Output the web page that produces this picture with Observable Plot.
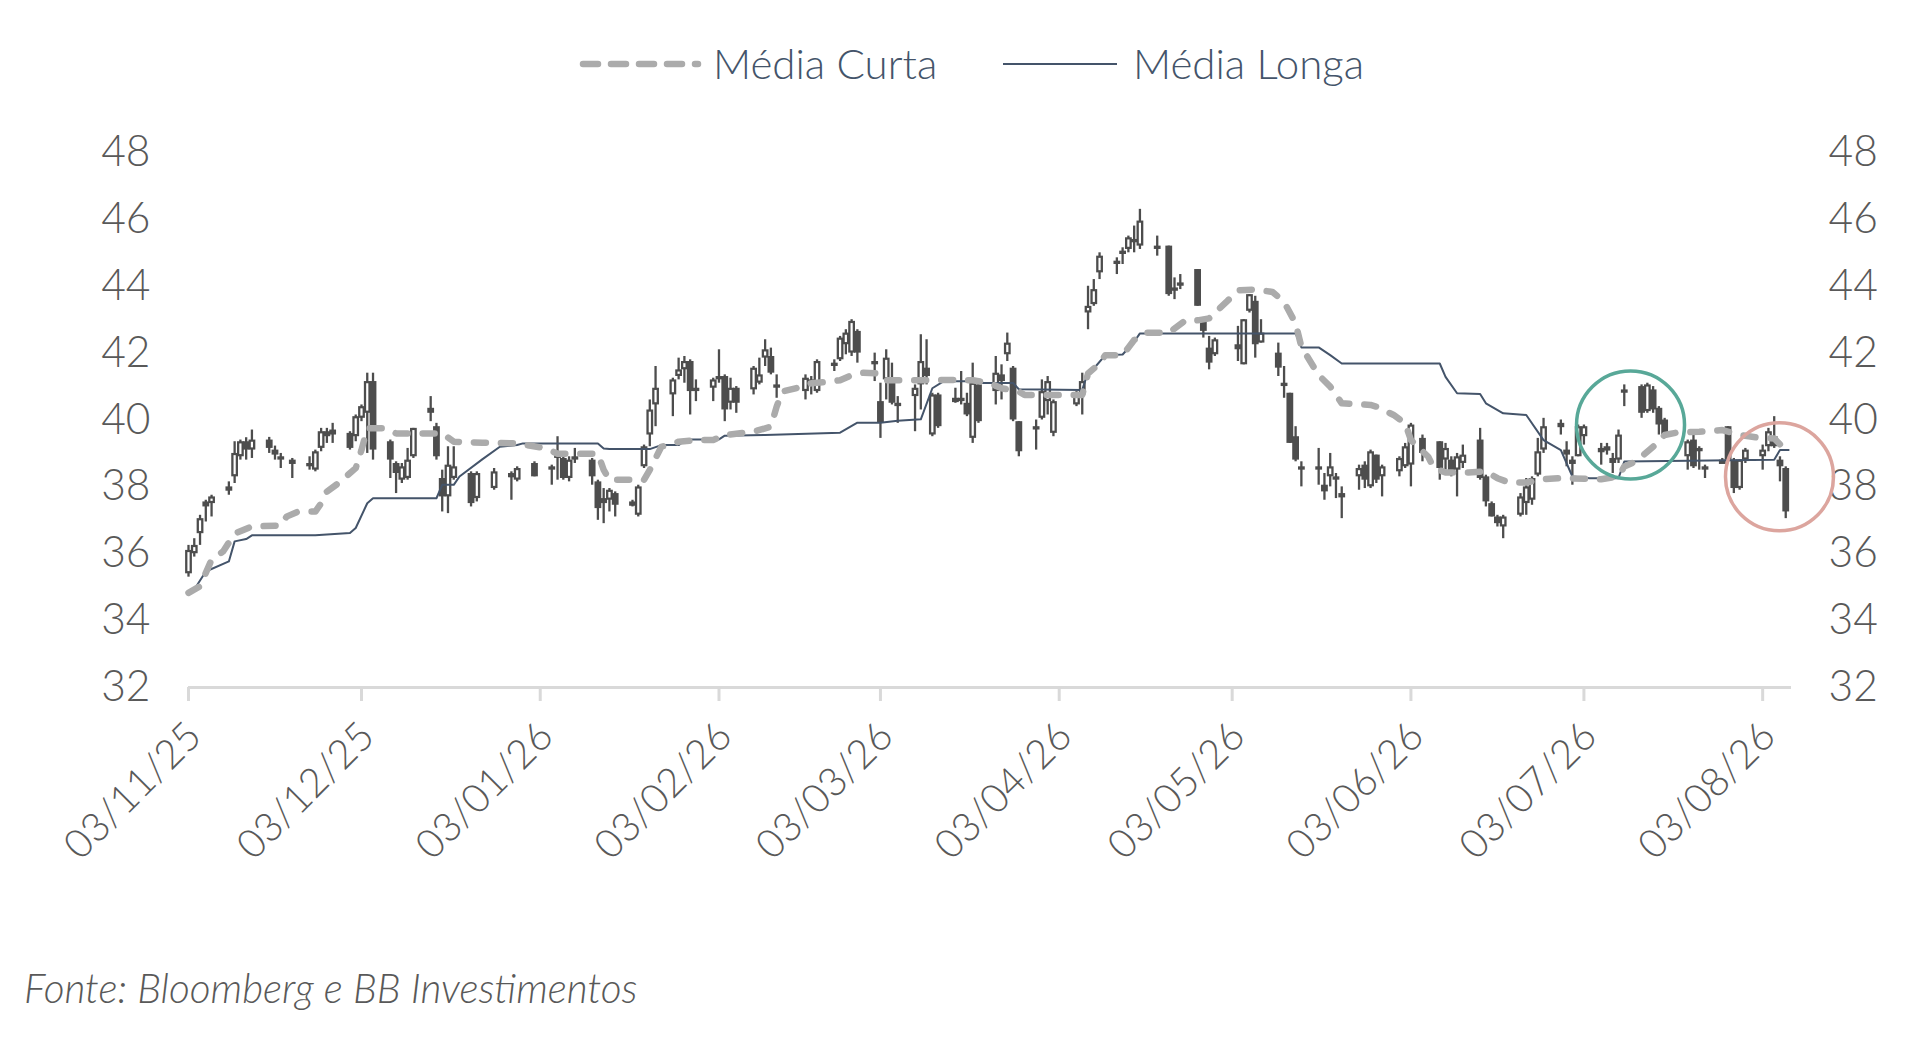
<!DOCTYPE html>
<html>
<head>
<meta charset="utf-8">
<script src="https://cdn.jsdelivr.net/npm/d3@7"></script>
<script src="https://cdn.jsdelivr.net/npm/@observablehq/plot@0.6"></script>
<style>
  html, body { margin: 0; padding: 0; background: #ffffff; }
  #wrap { position: relative; width: 1908px; height: 1055px; overflow: hidden; font-family: Lato, "Noto Sans", sans-serif; }
  #chart { position: absolute; left: 0; top: 0; }
  #legend { position: absolute; left: 0; top: 0; }
  #caption { position: absolute; left: 24px; top: 968px; font-style: italic; font-weight: 300; font-size: 40.5px; line-height: 1; color: #595959; }
</style>
</head>
<body>
<div id="wrap">
  <div id="chart"></div>
  <svg id="legend" width="1908" height="130"></svg>
  <div id="caption"></div>
</div>
<script>
// ---------- DATA ----------
const seriesNames = ["Média Curta", "Média Longa"];
const captionText = "Fonte: Bloomberg e BB Investimentos";
const yTicks = [32, 34, 36, 38, 40, 42, 44, 46, 48];
const xTickDates = ["2025-11-03","2025-12-03","2026-01-03","2026-02-03","2026-03-03","2026-04-03","2026-05-03","2026-06-03","2026-07-03","2026-08-03"];

// daily candles: [date, open, high, low, close]
const candles = [
["2025-11-03",35.4,36.25,35.3,36.1],["2025-11-04",36.0,36.45,35.9,36.25],["2025-11-05",36.6,37.15,36.25,37.05],
["2025-11-06",37.4,37.6,36.95,37.55],["2025-11-07",37.5,37.75,37.1,37.7],["2025-11-10",37.95,38.15,37.75,38.0],
["2025-11-11",38.3,39.35,38.1,39.0],["2025-11-12",38.9,39.4,38.8,39.35],["2025-11-13",39.35,39.47,38.8,39.1],
["2025-11-14",39.1,39.7,38.85,39.4],["2025-11-17",39.4,39.48,39.0,39.15],["2025-11-18",39.1,39.22,38.8,38.95],
["2025-11-19",38.9,39.0,38.55,38.8],["2025-11-21",38.8,38.85,38.25,38.75],["2025-11-24",38.7,38.9,38.5,38.6],
["2025-11-25",38.5,39.1,38.45,39.05],["2025-11-26",39.15,39.75,39.05,39.65],["2025-11-27",39.65,39.75,39.3,39.5],
["2025-11-28",39.55,39.9,39.3,39.7],
["2025-12-01",39.6,39.65,39.1,39.15],["2025-12-02",39.5,40.15,39.35,40.1],["2025-12-03",40.05,40.45,39.95,40.4],
["2025-12-04",40.2,41.4,39.0,41.15],["2025-12-05",41.15,41.4,38.8,39.1],["2025-12-08",39.35,39.4,38.25,38.8],
["2025-12-09",38.7,38.75,37.8,38.4],["2025-12-10",38.2,38.7,38.1,38.6],["2025-12-11",38.25,39.15,38.2,38.8],
["2025-12-12",38.9,39.75,38.85,39.75],["2025-12-15",40.2,40.7,39.95,40.35],["2025-12-16",39.8,39.9,38.8,38.9],
["2025-12-17",38.25,38.5,37.25,37.7],["2025-12-18",37.7,39.2,37.2,38.65],["2025-12-19",38.25,39.2,38.2,38.6],
["2025-12-22",38.4,38.45,37.4,37.5],["2025-12-23",37.65,38.45,37.55,38.4],["2025-12-26",37.95,38.55,37.9,38.45],
["2025-12-29",38.4,38.45,37.6,38.35],["2025-12-30",38.2,38.6,38.15,38.55],
["2026-01-02",38.7,38.75,38.3,38.3],["2026-01-05",38.6,38.65,38.05,38.5],["2026-01-06",38.95,39.5,38.2,38.85],
["2026-01-07",38.85,38.9,38.2,38.25],["2026-01-08",38.25,38.9,38.15,38.8],["2026-01-09",38.8,39.15,38.7,38.9],
["2026-01-12",38.8,38.85,38.05,38.3],["2026-01-13",38.15,38.2,37.0,37.35],["2026-01-14",37.5,37.95,36.9,37.65],
["2026-01-15",37.6,37.95,37.25,37.9],["2026-01-16",37.8,37.85,37.1,37.45],["2026-01-19",37.55,37.6,37.4,37.5],
["2026-01-20",37.15,38.05,37.1,38.0],["2026-01-21",38.6,39.25,38.55,39.2],["2026-01-22",39.55,40.6,39.2,40.3],
["2026-01-23",40.45,41.6,39.8,40.95],["2026-01-26",40.75,41.25,40.1,41.2],["2026-01-27",41.3,41.85,41.2,41.5],
["2026-01-28",41.5,41.9,41.1,41.75],["2026-01-29",41.75,41.8,40.15,40.85],["2026-01-30",40.85,41.2,40.55,40.95],
["2026-02-02",40.95,41.25,40.55,41.2],["2026-02-03",41.2,42.1,41.1,41.3],["2026-02-04",41.3,41.35,39.95,40.3],
["2026-02-05",40.5,41.25,40.3,40.95],["2026-02-06",40.95,41.0,40.2,40.5],["2026-02-09",40.9,41.6,40.75,41.55],
["2026-02-10",41.1,41.85,41.05,41.35],["2026-02-11",41.85,42.4,41.6,42.1],["2026-02-12",41.9,42.15,41.35,41.4],
["2026-02-13",41.05,41.35,40.65,40.95],["2026-02-18",40.85,41.35,40.6,41.25],["2026-02-19",41.2,41.3,40.75,41.05],
["2026-02-20",40.85,41.8,40.8,41.75],["2026-02-23",41.6,41.8,41.45,41.7],["2026-02-24",41.8,42.5,41.75,42.45],
["2026-02-25",42.25,42.7,41.95,42.6],["2026-02-26",42.0,43.0,41.9,42.95],["2026-02-27",42.65,42.7,41.7,42.0],
["2026-03-02",41.75,42.0,41.15,41.65],["2026-03-03",40.55,41.1,39.45,39.9],["2026-03-04",41.2,42.1,40.6,41.85],
["2026-03-05",41.25,41.7,40.45,40.5],["2026-03-06",40.5,40.7,39.9,40.4],["2026-03-09",40.7,41.05,39.65,40.95],
["2026-03-10",41.05,42.55,40.3,41.75],["2026-03-11",41.55,42.4,41.05,41.3],["2026-03-12",39.55,40.8,39.5,40.75],
["2026-03-13",40.75,40.8,39.75,39.8],["2026-03-16",40.6,40.95,40.5,40.65],["2026-03-17",40.65,41.45,40.45,40.55],
["2026-03-18",40.5,40.8,40.1,40.15],["2026-03-19",39.45,41.7,39.3,41.1],["2026-03-20",41.05,41.1,39.9,39.95],
["2026-03-23",40.85,41.9,40.45,41.4],["2026-03-24",41.35,41.65,40.6,41.15],["2026-03-25",41.95,42.6,41.75,42.3],
["2026-03-26",41.55,41.6,39.95,40.0],["2026-03-27",39.95,39.95,38.9,39.05],["2026-03-30",39.7,40.0,39.1,39.8],
["2026-03-31",40.05,41.2,40.0,40.85],
["2026-04-01",40.55,41.3,40.15,41.15],["2026-04-02",39.6,40.6,39.5,40.55],["2026-04-06",40.45,40.85,40.4,40.75],
["2026-04-07",40.75,41.4,40.15,41.15],["2026-04-08",43.2,44.0,42.7,43.4],["2026-04-09",43.45,44.2,43.4,43.9],
["2026-04-10",44.4,45.0,44.2,44.9],["2026-04-13",44.65,44.85,44.35,44.75],["2026-04-14",44.95,45.15,44.65,45.05],
["2026-04-15",45.1,45.5,45.0,45.45],["2026-04-16",45.3,45.8,45.0,45.4],["2026-04-17",45.2,46.3,45.1,45.95],
["2026-04-20",45.2,45.5,44.9,45.1],["2026-04-22",45.2,45.2,43.7,43.75],["2026-04-23",43.85,44.25,43.6,43.95],
["2026-04-24",44.0,44.35,43.9,44.1],["2026-04-27",44.5,44.5,43.4,43.4],["2026-04-28",42.95,43.05,42.45,42.65],
["2026-04-29",42.15,42.5,41.5,41.7],["2026-04-30",41.95,42.45,41.9,42.4],
["2026-05-04",42.1,42.8,41.75,42.25],["2026-05-05",41.65,43.0,41.65,43.0],["2026-05-06",43.25,43.75,43.2,43.75],
["2026-05-07",43.55,43.7,41.85,42.25],["2026-05-08",42.3,43.0,42.3,42.6],["2026-05-11",42.0,42.3,41.3,41.55],
["2026-05-12",41.1,41.6,40.65,41.0],["2026-05-13",40.8,40.8,39.3,39.3],["2026-05-14",39.5,39.8,38.75,38.8],
["2026-05-15",38.6,38.75,38.0,38.5],["2026-05-18",38.5,39.15,38.05,38.6],["2026-05-19",38.05,38.4,37.6,37.85],
["2026-05-20",38.3,39.0,38.0,38.6],["2026-05-21",38.3,38.4,37.65,38.2],["2026-05-22",37.8,38.0,37.05,37.75],
["2026-05-25",38.3,38.65,37.9,38.55],["2026-05-26",38.65,38.75,37.95,38.2],["2026-05-27",38.0,39.1,37.95,39.05],
["2026-05-28",38.95,38.95,38.1,38.2],["2026-05-29",38.3,38.65,37.7,38.6],
["2026-06-01",38.45,38.9,38.3,38.85],["2026-06-02",38.6,39.3,38.55,39.2],["2026-06-03",38.65,39.9,38.0,39.85],
["2026-06-05",39.45,39.55,38.75,39.0],["2026-06-08",39.35,39.35,38.2,38.55],["2026-06-09",38.8,39.3,38.5,39.15],
["2026-06-10",38.8,38.9,38.3,38.45],["2026-06-11",38.5,39.0,37.7,38.9],["2026-06-12",38.7,39.25,38.55,38.95],
["2026-06-15",39.4,39.75,38.2,38.25],["2026-06-16",38.3,38.35,37.4,37.55],["2026-06-17",37.5,37.55,37.1,37.1],
["2026-06-18",37.1,37.15,36.8,36.9],["2026-06-19",36.8,37.15,36.45,37.1],["2026-06-22",37.15,37.8,37.1,37.7],
["2026-06-23",37.5,38.25,37.15,38.0],["2026-06-24",37.6,38.3,37.45,38.25],["2026-06-25",38.35,39.45,38.3,39.05],
["2026-06-26",39.1,40.05,39.0,39.8],["2026-06-29",39.85,40.0,39.55,39.9],["2026-06-30",39.1,39.35,38.6,38.95],
["2026-07-01",38.8,38.9,38.05,38.75],["2026-07-02",38.9,39.85,38.9,39.8],["2026-07-03",39.5,39.85,39.25,39.8],
["2026-07-06",39.1,39.3,38.65,39.15],["2026-07-07",39.2,39.3,38.95,39.15],["2026-07-08",38.85,39.0,38.4,38.7],
["2026-07-09",38.8,39.7,38.7,39.55],["2026-07-10",40.8,41.05,40.4,40.9],["2026-07-13",41.0,41.05,40.05,40.2],
["2026-07-14",40.25,41.1,40.2,41.05],["2026-07-15",40.9,41.0,40.2,40.3],["2026-07-16",40.35,40.4,39.55,39.85],
["2026-07-17",40.0,40.05,39.5,39.55],["2026-07-21",38.9,39.4,38.5,39.35],["2026-07-22",39.4,39.65,38.55,38.6],
["2026-07-23",39.05,39.2,38.5,39.15],["2026-07-24",38.6,38.65,38.25,38.5],["2026-07-27",38.8,38.85,38.7,38.75],
["2026-07-28",39.8,39.8,38.8,38.8],["2026-07-29",38.8,38.85,37.8,37.95],["2026-07-30",37.95,38.8,37.9,38.8],
["2026-07-31",38.8,39.15,38.7,39.1],
["2026-08-03",38.9,39.25,38.5,39.1],["2026-08-04",39.2,39.75,39.05,39.65],["2026-08-05",39.5,40.1,39.15,39.2],
["2026-08-06",38.8,38.9,38.15,38.6],["2026-08-07",38.55,38.6,37.05,37.25]
];

// Média Curta: [date, value]
const mediaCurta = [
["2025-11-03",34.83],["2025-11-05",35.03],["2025-11-07",35.82],["2025-11-09",36.07],["2025-11-11",36.6],
["2025-11-14",36.82],["2025-11-19",36.84],["2025-11-20",37.11],["2025-11-22",37.26],["2025-11-25",37.26],
["2025-11-26",37.51],["2025-11-27",37.86],["2025-11-29",38.11],["2025-12-02",38.56],["2025-12-03",39.1],
["2025-12-04",39.75],["2025-12-07",39.75],["2025-12-09",39.6],["2025-12-17",39.6],["2025-12-19",39.35],
["2025-12-24",39.32],["2025-12-30",39.3],["2026-01-04",39.15],["2026-01-06",38.99],["2026-01-13",38.99],
["2026-01-14",38.51],["2026-01-15",38.21],["2026-01-21",38.21],["2026-01-22",38.51],["2026-01-24",39.2],
["2026-01-27",39.35],["2026-01-30",39.4],["2026-02-02",39.4],["2026-02-04",39.55],["2026-02-09",39.65],
["2026-02-12",39.8],["2026-02-13",40.4],["2026-02-14",40.85],["2026-02-17",40.98],["2026-02-19",41.1],
["2026-02-22",41.14],["2026-02-24",41.19],["2026-02-26",41.34],["2026-02-28",41.41],["2026-03-03",41.39],
["2026-03-04",41.19],["2026-03-12",41.19],["2026-03-15",41.2],["2026-03-19",41.19],["2026-03-22",41.1],
["2026-03-24",40.95],["2026-03-27",40.85],["2026-03-28",40.75],["2026-04-07",40.75],["2026-04-08",41.39],
["2026-04-10",41.69],["2026-04-11",41.94],["2026-04-14",41.94],["2026-04-16",42.39],["2026-04-18",42.61],
["2026-04-22",42.61],["2026-04-25",42.99],["2026-04-27",42.98],["2026-04-29",43.04],["2026-05-02",43.53],
["2026-05-04",43.88],["2026-05-07",43.9],["2026-05-10",43.83],["2026-05-12",43.53],["2026-05-14",42.89],
["2026-05-15",42.19],["2026-05-18",41.34],["2026-05-20",41.0],["2026-05-22",40.5],["2026-05-27",40.45],
["2026-05-28",40.4],["2026-05-31",40.15],["2026-06-02",39.9],["2026-06-03",39.4],["2026-06-06",38.9],
["2026-06-07",38.56],["2026-06-09",38.43],["2026-06-13",38.43],["2026-06-16",38.46],["2026-06-18",38.26],
["2026-06-20",38.13],["2026-06-23",38.13],["2026-06-26",38.23],["2026-06-29",38.26],["2026-07-06",38.23],
["2026-07-09",38.31],["2026-07-10",38.61],["2026-07-12",38.76],["2026-07-15",39.2],["2026-07-17",39.55],
["2026-07-19",39.62],["2026-07-23",39.65],["2026-07-27",39.7],["2026-07-30",39.55],["2026-08-02",39.48],
["2026-08-05",39.45],["2026-08-06T10:00Z",39.2]
];

// Média Longa: [date, value]
const mediaLonga = [
["2025-11-03",34.84],["2025-11-04",34.93],["2025-11-06",35.47],["2025-11-10",35.77],["2025-11-11",36.37],
["2025-11-13",36.44],["2025-11-14",36.55],["2025-11-25",36.55],["2025-12-01",36.62],["2025-12-02",36.77],
["2025-12-04",37.51],["2025-12-05",37.66],["2025-12-16",37.66],["2025-12-17",38.06],["2025-12-19",38.06],
["2025-12-20",38.31],["2025-12-24",38.83],["2025-12-27",39.2],["2025-12-30",39.25],["2025-12-31",39.3],
["2026-01-13",39.3],["2026-01-14",39.15],["2026-01-15",39.13],["2026-01-22",39.13],["2026-01-24",39.25],
["2026-01-27",39.25],["2026-01-28",39.38],["2026-01-29",39.42],["2026-02-03",39.42],["2026-02-04",39.53],
["2026-02-11",39.55],["2026-02-24",39.62],["2026-02-27",39.92],["2026-03-03",39.92],["2026-03-06",39.98],
["2026-03-10",40.02],["2026-03-12",40.95],["2026-03-14",41.16],["2026-03-19",41.16],["2026-03-20",41.11],
["2026-03-26",41.11],["2026-03-27",40.92],["2026-04-07",40.9],["2026-04-08",41.44],["2026-04-09",41.54],
["2026-04-11",41.94],["2026-04-14",41.96],["2026-04-16",42.34],["2026-04-17",42.59],["2026-05-14",42.59],
["2026-05-15",42.17],["2026-05-18",42.17],["2026-05-20",41.94],["2026-05-22",41.69],["2026-06-08",41.69],
["2026-06-09",41.29],["2026-06-11",40.8],["2026-06-15",40.78],["2026-06-16",40.5],["2026-06-19",40.2],
["2026-06-23",40.15],["2026-06-26",39.4],["2026-06-29",39.1],["2026-07-01",38.31],["2026-07-04",38.26],
["2026-07-09",38.26],["2026-07-10",38.76],["2026-08-05",38.81],["2026-08-06",39.1],["2026-08-07T12:00Z",39.1]
];

// highlighted zones (circles)
const highlightDates = ["2026-07-11T02:00Z", "2026-08-05T22:00Z"];
const highlightValues = [39.85, 38.3];

// ---------- BUILD ----------
const toDate = s => new Date(s);
const rows = candles.map(([d, o, h, l, c]) => ({date: toDate(d), o, h, l, c, up: c >= o}));
const curta = mediaCurta.map(([d, v]) => ({date: toDate(d), v}));
const longa = mediaLonga.map(([d, v]) => ({date: toDate(d), v}));
const circles = highlightDates.map((d, i) => ({date: toDate(d), v: highlightValues[i]}));
const xTicks = xTickDates.map(toDate);
const fmt = d3.utcFormat("%d/%m/%y");

const textGray = "#595959";
const candleColor = "#4d4d4d";
const curtaColor = "#ababab";
const longaColor = "#44546a";
const fontFam = "Lato, 'Noto Sans', sans-serif";

const chart = Plot.plot({
  width: 1908,
  height: 900,
  marginTop: 152,
  marginBottom: 213,
  marginLeft: 188,
  marginRight: 117,
  style: {fontFamily: fontFam, fontWeight: 300, background: "transparent", color: textGray},
  x: {type: "utc", domain: [toDate("2025-11-03"), toDate("2026-08-08")]},
  y: {domain: [32, 48]},
  marks: [
    Plot.ruleY([32], {stroke: "#d9d9d9", strokeWidth: 3}),
    // x ticks (marks only)
    Plot.axisX({ticks: xTicks, tickFormat: () => "", tickSize: 14, stroke: "#d9d9d9", strokeWidth: 3, label: null}),
    // x tick labels, rotated
    Plot.text(xTicks, {
      x: d => d, text: d => fmt(d), frameAnchor: "bottom",
      rotate: -45, textAnchor: "end", lineAnchor: "middle",
      dx: 6, dy: 42, fontSize: 40, fontWeight: 300, fill: textGray
    }),
    Plot.axisY({anchor: "left", ticks: yTicks, tickSize: 0, tickPadding: 38, fill: textGray, fontSize: 42.5, fontWeight: 300, label: null}),
    Plot.axisY({anchor: "right", ticks: yTicks, tickSize: 0, tickPadding: 37, fill: textGray, fontSize: 42.5, fontWeight: 300, label: null}),
    // wicks
    Plot.ruleX(rows, {x: "date", y1: "l", y2: "h", stroke: candleColor, strokeWidth: 2.3}),
    // bodies
    Plot.ruleX(rows, {x: "date", y1: d => Math.max(d.o, d.c), y2: d => Math.min(d.o, d.c) - (Math.abs(d.c - d.o) < 0.08 ? 0.08 : 0), stroke: candleColor, strokeWidth: 6.8}),
    // hollow interior for up candles
    Plot.ruleX(rows.filter(d => d.up && d.c - d.o > 0.16), {x: "date", y1: "c", y2: "o", stroke: "#ffffff", strokeWidth: 2.2, insetTop: 2.2, insetBottom: 2.2}),
    // moving averages
    Plot.line(longa, {x: "date", y: "v", stroke: longaColor, strokeWidth: 2}),
    Plot.line(curta, {x: "date", y: "v", stroke: curtaColor, strokeWidth: 6.5, strokeDasharray: "12 15", strokeLinecap: "round", strokeLinejoin: "round"}),
    // highlight circles
    Plot.dot([circles[0]], {x: "date", y: "v", r: 54, stroke: "#58a898", strokeWidth: 3.5, fill: "none"}),
    Plot.dot([circles[1]], {x: "date", y: "v", r: 54, stroke: "#dca59e", strokeWidth: 3.5, fill: "none"})
  ]
});
document.getElementById("chart").appendChild(chart);

// legend
const ns = "http://www.w3.org/2000/svg";
const lg = document.getElementById("legend");
function el(tag, attrs, text) {
  const e = document.createElementNS(ns, tag);
  for (const k in attrs) e.setAttribute(k, attrs[k]);
  if (text) e.textContent = text;
  lg.appendChild(e);
  return e;
}
el("line", {x1: 583, x2: 698, y1: 64, y2: 64, stroke: curtaColor, "stroke-width": 6.5, "stroke-dasharray": "15 13", "stroke-linecap": "round"});
el("text", {x: 713, y: 79, "font-size": 42, "font-weight": 300, "font-family": fontFam, fill: longaColor}, seriesNames[0]);
el("line", {x1: 1003, x2: 1117, y1: 64, y2: 64, stroke: longaColor, "stroke-width": 2});
el("text", {x: 1133, y: 79, "font-size": 42, "font-weight": 300, "font-family": fontFam, fill: longaColor}, seriesNames[1]);

document.getElementById("caption").textContent = captionText;
</script>
</body>
</html>
